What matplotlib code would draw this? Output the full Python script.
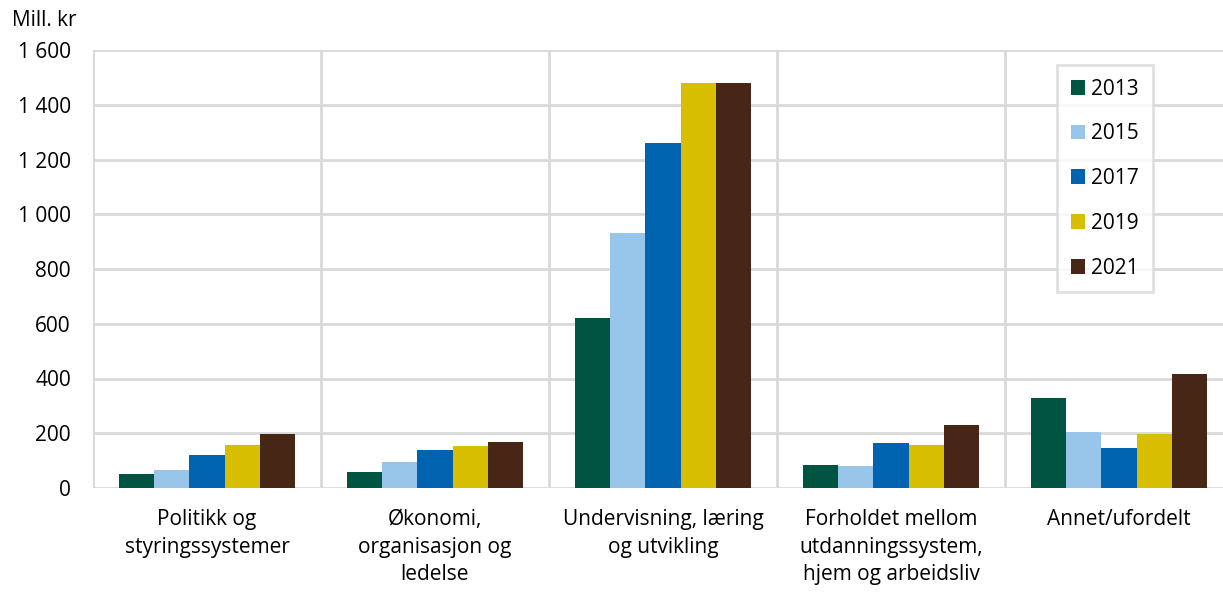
import matplotlib
matplotlib.use("Agg")
import matplotlib.pyplot as plt
import numpy as np
from matplotlib.ticker import FuncFormatter

categories = ["Politikk og\nstyringssystemer", "Økonomi,\norganisasjon og\nledelse",
              "Undervisning, læring\nog utvikling", "Forholdet mellom\nutdanningssystem,\nhjem og arbeidsliv",
              "Annet/ufordelt"]
years = ["2013", "2015", "2017", "2019", "2021"]
v2013 = [50, 58, 620, 83, 328]
v2015 = [66, 95, 931, 79, 205]
v2017 = [120, 139, 1262, 164, 147]
v2019 = [157, 153, 1478, 157, 199]
v2021 = [196, 168, 1480, 229, 418]
series = [v2013, v2015, v2017, v2019, v2021]
colors = ["#005542", "#97C6EA", "#0063AF", "#D7BE00", "#472615"]

plt.rcParams['font.family'] = ['Open Sans', 'DejaVu Sans']
W, H = 1223, 592
fig = plt.figure(figsize=(W/100, H/100), dpi=100)
ax_l, ax_r, ax_t, ax_b = 93, 1233, 50, 488
ax = fig.add_axes([ax_l/W, 1-ax_b/H, (ax_r-ax_l)/W, (ax_b-ax_t)/H])

x = np.arange(len(categories))
n = len(series)
bw = 0.77 / n
for i, (vals, c, y) in enumerate(zip(series, colors, years)):
    ax.bar(x - 0.385 + bw*(i+0.5), vals, width=bw, color=c, label=y, zorder=3)

ax.set_xlim(-0.5, len(categories)-0.5)
ax.set_ylim(0, 1600)
ax.set_yticks(np.arange(0, 1601, 200))
ax.yaxis.set_major_formatter(FuncFormatter(lambda v, p: f"{int(v):,}".replace(",", " ")))
ax.grid(axis='y', color='#d9d9d9', linewidth=2, zorder=0)
for b in np.arange(-0.5, len(categories), 1.0):
    ax.axvline(b, color='#d9d9d9', linewidth=2, zorder=0)
for s in ax.spines.values():
    s.set_visible(False)
ax.set_xticks(x)
ax.set_xticklabels(categories, fontsize=15, linespacing=1.42, va='top')
ax.tick_params(axis='x', length=0, pad=15)
ax.tick_params(axis='y', length=0, pad=16, labelsize=15)

fig.text(12/W, 1-20/H, "Mill. kr", fontsize=15, va='center', ha='left')

leg = ax.legend(loc='upper left', bbox_to_anchor=((1057-ax_l)/(ax_r-ax_l), (ax_b-65)/(ax_b-ax_t)),
                borderaxespad=0, frameon=True, fontsize=15, handlelength=0.7, handleheight=0.7,
                labelspacing=1.14, borderpad=0.65, handletextpad=0.3, fancybox=False)
leg.get_frame().set_edgecolor('#d9d9d9')
leg.get_frame().set_linewidth(2)

fig.savefig("out.png", dpi=100)
